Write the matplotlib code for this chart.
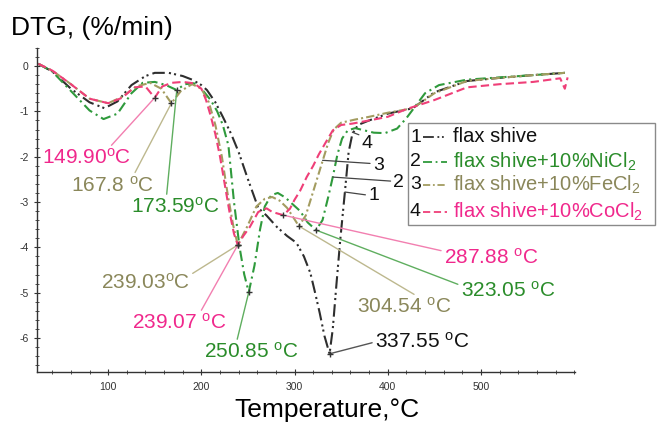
import numpy as np
import matplotlib
matplotlib.use('Agg')
import matplotlib.pyplot as plt
from matplotlib.ticker import MultipleLocator, AutoMinorLocator
from matplotlib.lines import Line2D
from matplotlib.patches import Rectangle

plt.rcParams['font.family'] = ['Liberation Sans', 'DejaVu Sans']
plt.rcParams['mathtext.fontset'] = 'custom'
plt.rcParams['mathtext.rm'] = 'Liberation Sans'
plt.rcParams['mathtext.it'] = 'Liberation Sans:italic'

# ---- data (T in degC, DTG in %/min) ----
t1 = [25, 40, 60, 80, 96, 110, 125, 140, 150, 165, 180, 190, 200, 206, 215, 223, 232, 240,
      250, 261, 270, 281, 292, 302, 310, 317, 322, 327, 332, 337.55, 341, 345, 349, 354, 358,
      362, 368, 380, 400, 427, 450, 485, 520, 556, 590]
d1 = [0.05, -0.12, -0.5, -0.8, -0.93, -0.78, -0.42, -0.22, -0.15, -0.15, -0.22, -0.3, -0.42,
      -0.53, -0.8, -1.12, -1.5, -1.9, -2.5, -3.13, -3.3, -3.55, -3.75, -3.9, -4.2, -4.57, -5.0,
      -5.45, -5.95, -6.35, -5.8, -4.8, -3.84, -2.78, -1.9, -1.5, -1.3, -1.2, -1.05, -0.93,
      -0.58, -0.33, -0.26, -0.2, -0.15]

t2 = [25, 40, 60, 80, 95, 110, 125, 137, 150, 162, 173.59, 182, 192, 200, 210, 217, 223, 229,
      235, 241, 246, 250.85, 257, 263, 268, 275, 282, 290, 298, 306, 314, 323.05, 330, 336,
      341, 346, 351, 357, 365, 375, 385, 397, 410, 420, 428, 440, 455, 485, 520, 556, 590]
d2 = [0.05, -0.12, -0.55, -0.98, -1.17, -1.05, -0.6, -0.37, -0.35, -0.42, -0.53, -0.4, -0.38,
      -0.5, -0.75, -1.0, -1.3, -1.75, -3.0, -4.0, -4.6, -4.99, -4.4, -3.6, -3.1, -2.85, -2.8,
      -2.9, -3.05, -3.2, -3.45, -3.62, -3.4, -2.9, -2.45, -1.95, -1.6, -1.42, -1.37, -1.42,
      -1.47, -1.48, -1.38, -1.15, -0.93, -0.6, -0.42, -0.3, -0.25, -0.2, -0.15]

t3 = [25, 40, 60, 80, 100, 115, 130, 145, 157, 167.8, 178, 190, 200, 208, 215, 222, 228, 234,
      239.03, 249, 259, 268, 276, 284, 292, 299, 304.54, 312, 318, 324, 330, 336, 342, 350,
      365, 380, 400, 427, 450, 485, 520, 556, 590]
d3 = [0.05, -0.1, -0.4, -0.72, -0.82, -0.68, -0.45, -0.37, -0.5, -0.82, -0.55, -0.4, -0.5,
      -0.8, -1.3, -2.0, -2.8, -3.5, -3.95, -3.55, -3.1, -2.93, -2.89, -2.97, -3.13, -3.35,
      -3.53, -3.3, -2.9, -2.5, -2.1, -1.7, -1.4, -1.25, -1.18, -1.12, -1.03, -0.93, -0.6,
      -0.33, -0.26, -0.2, -0.15]

t4 = [25, 40, 60, 80, 100, 115, 128, 140, 149.9, 158, 168, 180, 192, 200, 205, 210, 215, 220,
      225, 230, 235, 239.07, 245, 252, 261, 270, 276, 287.88, 295, 300, 306, 313, 320, 326,
      333, 341, 350, 362, 380, 400, 420, 450, 485, 520, 556, 585, 590, 593]
d4 = [0.05, -0.1, -0.4, -0.72, -0.82, -0.7, -0.47, -0.45, -0.7, -0.45, -0.37, -0.35, -0.38,
      -0.5, -0.75, -1.1, -1.5, -2.0, -2.6, -3.2, -3.7, -3.95, -3.75, -3.55, -3.22, -3.14,
      -3.22, -3.29, -3.15, -2.95, -2.75, -2.45, -2.2, -1.95, -1.7, -1.42, -1.3, -1.27, -1.2,
      -1.12, -0.95, -0.75, -0.47, -0.4, -0.35, -0.27, -0.5, -0.25]

# peak annotations
peak_label = ['149.90', '167.8 ', '173.59', '239.03', '239.07 ', '250.85 ',
              '287.88 ', '323.05 ', '304.54 ', '337.55 ']
peak_T = [149.9, 167.8, 173.59, 239.03, 239.07, 250.85, 287.88, 323.05, 304.54, 337.55]
peak_D = [-0.70, -0.82, -0.53, -3.95, -3.95, -4.99, -3.29, -3.62, -3.53, -6.35]
peak_curve = [4, 3, 2, 3, 4, 2, 4, 2, 3, 1]

legend_labels = ['flax shive', 'flax shive+10%NiCl$_\\mathrm{2}$',
                 'flax shive+10%FeCl$_\\mathrm{2}$', 'flax shive+10%CoCl$_\\mathrm{2}$']

# ---- styles ----
line_col = {1: '#2e2e2e', 2: '#2f9a3c', 3: '#a39c60', 4: '#ef3f78'}
text_col = {1: '#111111', 2: '#2a8c2a', 3: '#8a875a', 4: '#f0288c'}
lead_col = {1: '#555555', 2: '#5fae5f', 3: '#bdb88e', 4: '#f27fb0'}
dashes = {1: (6, 2, 1, 1.5, 1, 2), 2: (5, 2, 1, 2), 3: (4, 1.5, 1, 1.5), 4: (4, 2)}

# text placement (layout) for each peak label: (T, DTG) centre, and leader attach point
txt_pos = [(77, -2.03), (105, -2.63), (172, -3.11), (140, -4.79), (176, -5.67),
           (254, -6.31), (511, -4.22), (529, -4.95), (418, -5.32), (437, -6.09)]
rel_pos = [(0.75, 1), (0.75, 1), (0.4, 1), (1, 0.9), (0.72, 1), (0.34, 1),
           (0, 0.8), (0, 0.75), (0.65, 1), (0, 0.5)]

fig = plt.figure(figsize=(6.57, 4.28), dpi=100)
ax = fig.add_axes([0.0563, 0.131, 0.819, 0.757])

for k, (t, d) in enumerate([(t1, d1), (t2, d2), (t3, d3), (t4, d4)], start=1):
    ln, = ax.plot(t, d, color=line_col[k], lw=1.5)
    ln.set_dashes(dashes[k])

ax.plot(peak_T, peak_D, '+', color='#333333', ms=4, mew=1, zorder=5)

for lab, pt, pd, c, tp, rp in zip(peak_label, peak_T, peak_D, peak_curve, txt_pos, rel_pos):
    ax.annotate(lab + '$^\\mathrm{o}$C', xy=(pt, pd), xytext=tp, textcoords='data',
                ha='center', va='center', fontsize=15, color=text_col[c],
                arrowprops=dict(arrowstyle='-', color=lead_col[c], lw=1,
                                relpos=rp, shrinkA=0, shrinkB=0))

# curve number labels
num_txt = [(379, -2.85), (406, -2.58), (384, -2.19), (372, -1.70)]
num_from = [(354, -2.78), (341, -2.45), (330, -2.08), (362, -1.46)]
num_rel = [(0, 0.5), (0, 0.6), (0, 0.6), (0.1, 0.9)]
for i in range(4):
    ax.annotate(str(i + 1), xy=num_from[i], xytext=num_txt[i], ha='left', va='center',
                fontsize=14, color='#111111',
                arrowprops=dict(arrowstyle='-', color='#444444', lw=0.9,
                                relpos=num_rel[i], shrinkA=0, shrinkB=0))

ax.set_xlim(23.6, 601)
ax.set_ylim(-6.75, 0.4)
ax.xaxis.set_major_locator(MultipleLocator(100))
ax.xaxis.set_minor_locator(AutoMinorLocator(5))
ax.yaxis.set_major_locator(MultipleLocator(1))
ax.yaxis.set_minor_locator(AutoMinorLocator(5))
ax.set_xticks([100, 200, 300, 400, 500])
ax.set_yticks([0, -1, -2, -3, -4, -5, -6])
ax.set_yticklabels(['0', '-1', '-2', '-3', '-4', '-5', '-6'])
ax.tick_params(which='major', direction='inout', length=5, width=0.8, labelsize=7.5,
               colors='#333333')
ax.tick_params(which='minor', direction='inout', length=3, width=0.6, colors='#333333')
ax.tick_params(axis='x', pad=5)
for s in ['top', 'right']:
    ax.spines[s].set_visible(False)
for s in ['left', 'bottom']:
    ax.spines[s].set_color('#333333')
    ax.spines[s].set_linewidth(1.0)

fig.text(11 / 657, 1 - 28 / 428, 'DTG, (%/min)', ha='left', va='center', fontsize=19)
fig.text(0.497, 1 - 410 / 428, 'Temperature,\u00b0C', ha='center', va='center', fontsize=19)

# legend box drawn by hand (numbers before the line samples)
fig.patches.append(Rectangle((408 / 657, 1 - 225 / 428), 247 / 657, 102 / 428,
                             transform=fig.transFigure, fill=False, ec='#8a8a8a', lw=1))
row_y = [137, 162, 185, 212]
for i in range(4):
    yy = 1 - row_y[i] / 428
    fig.text(410 / 657, yy, str(i + 1), ha='left', va='center', fontsize=14, color='#111111')
    lg = Line2D([423 / 657, 447 / 657], [yy, yy], transform=fig.transFigure,
                color=line_col[i + 1], lw=1.3)
    lg.set_dashes(dashes[i + 1])
    fig.lines.append(lg)
    fig.text(453 / 657, yy, legend_labels[i], ha='left', va='center', fontsize=14.5,
             color=text_col[i + 1])

fig.savefig('out.png', dpi=100)
